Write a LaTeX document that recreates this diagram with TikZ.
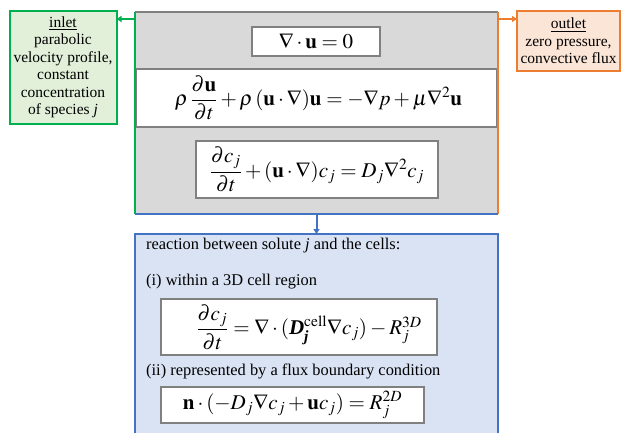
\documentclass[tikz,border=0pt]{standalone}
\usepackage{amsmath}
\usepackage{mathptmx}
\usepackage{fontspec}
\setmainfont{Liberation Serif}
\usetikzlibrary{arrows.meta}
\definecolor{cgreen}{HTML}{00B050}
\definecolor{cgreenf}{HTML}{E2F0D9}
\definecolor{corange}{HTML}{ED7D31}
\definecolor{corangef}{HTML}{FBE5D6}
\definecolor{cblue}{HTML}{4472C4}
\definecolor{cbluef}{HTML}{DAE3F3}
\definecolor{cgreyf}{HTML}{D9D9D9}
\definecolor{cgreyb}{HTML}{808080}
\tikzset{
  eqbox/.style={draw=cgreyb, line width=1.3pt, fill=white, inner sep=0pt, outer sep=0pt},
  sidebox/.style={line width=2pt, inner sep=0pt, outer sep=0pt, align=center, font=\fontsize{15.5}{17.5}\selectfont},
  lbl/.style={anchor=west, inner sep=0pt, font=\fontsize{16.4}{19}\selectfont},
  tip/.style={-{Triangle[length=5pt,width=6pt]}},
  eqf/.style={font=\fontsize{21}{24}\selectfont}
}
\begin{document}
\begin{tikzpicture}[x=1pt,y=-1pt]
\useasboundingbox (0,0) rectangle (622,432);
% grey main box
\node[fill=cgreyf, minimum width=363pt, minimum height=202pt, inner sep=0pt, outer sep=0pt] (grey) at (316.5,113) {};
\draw[cgreyb, line width=1.5pt] (grey.north west) -- (grey.north east);
% white band
\node[eqbox, minimum width=361pt, minimum height=58pt] (band) at (316.5,98) {};
% equation boxes
\node[eqbox, minimum width=128pt, minimum height=29pt] (e1) at (316,41.5) {};
\node[eqf] (t1) at (e1.center) {$\nabla\cdot\mathbf{u}=0$};
\node[eqf] (t2) at ([xshift=2pt]band.center) {$\rho\,\dfrac{\partial\mathbf{u}}{\partial t}+\rho\,(\mathbf{u}\cdot\nabla)\mathbf{u}=-\nabla p+\mu\nabla^2\mathbf{u}$};
\node[eqbox, minimum width=242pt, minimum height=57pt] (e3) at (317,169.5) {};
\node[eqf] (t3) at (e3.center) {$\dfrac{\partial c_j}{\partial t}+(\mathbf{u}\cdot\nabla)c_j=D_j\nabla^2c_j$};
% coloured edges of grey box
\draw[cgreen, line width=2.5pt] (grey.north west) -- (grey.south west);
\draw[corange, line width=2.5pt] (grey.north east) -- (grey.south east);
\draw[cblue, line width=2.5pt] (grey.south west) -- (grey.south east);
% inlet / outlet
\node[sidebox, draw=cgreen, fill=cgreenf, minimum width=107pt, minimum height=113pt] (inlet) at (63,67.5) {\underline{inlet}\\parabolic\\velocity profile,\\constant\\concentration\\of species \textit{j}};
\node[sidebox, draw=corange, fill=corangef, minimum width=103pt, minimum height=60pt] (outlet) at (568.5,41) {\underline{outlet}\\zero pressure,\\convective flux};
\coordinate (gin) at ([yshift=-7pt]grey.north west);
\coordinate (gout) at ([yshift=-7pt]grey.north east);
\draw[cgreen, line width=2.5pt, tip] (gin) -- (gin -| inlet.east);
\draw[corange, line width=2.5pt, tip] (gout) -- (gout -| outlet.west);
% blue box
\node[draw=cblue, fill=cbluef, line width=2.5pt, minimum width=363pt, minimum height=215pt, inner sep=0pt, outer sep=0pt] (react) at (316.5,341.5) {};
\draw[cblue, line width=2pt, tip] (grey.south) -- (react.north);
\node[lbl] (l1) at (146,246) {reaction between solute \textit{j} and the cells:};
\node[lbl] (l2) at (146,282) {(i) within a 3D cell region};
\node[eqbox, minimum width=276pt, minimum height=56pt] (e4) at (299,327) {};
\node[eqf] (t4) at ([xshift=10pt]e4.center) {$\dfrac{\partial c_j}{\partial t}=\nabla\cdot(\textbf{\textit{D}}_{\textbf{\textit{j}}}^{\mathrm{cell}}\nabla c_j)-R_j^{3D}$};
\node[lbl] (l3) at (146,371) {(ii) represented by a flux boundary condition};
\node[eqbox, minimum width=263pt, minimum height=36pt] (e5) at (292.5,405) {};
\node[eqf] (t5) at (e5.center) {$\mathbf{n}\cdot(-D_j\nabla c_j+\mathbf{u}c_j)=R_j^{2D}$};
\end{tikzpicture}
\end{document}
